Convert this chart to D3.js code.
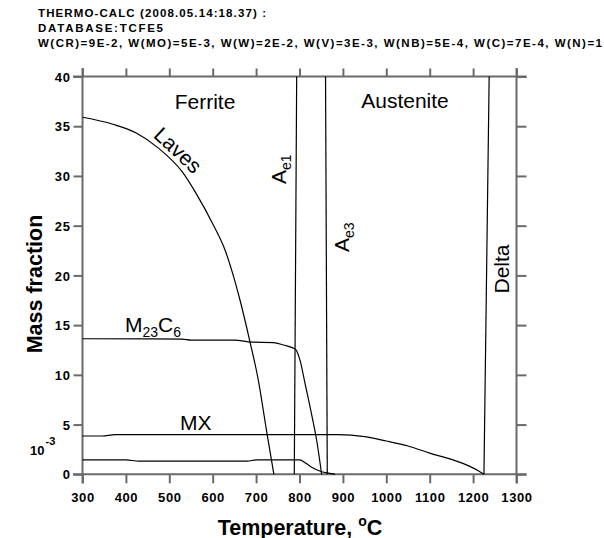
<!DOCTYPE html>
<html><head><meta charset="utf-8">
<script src="https://cdn.jsdelivr.net/npm/d3@7"></script>
<style>body{margin:0;background:#fff}</style>
</head><body>
<svg id="chart" width="604" height="538"></svg>
<script>
// ---- data ----
const titleLines = [
  "THERMO-CALC (2008.05.14:18.37) :",
  "DATABASE:TCFE5",
  "W(CR)=9E-2, W(MO)=5E-3, W(W)=2E-2, W(V)=3E-3, W(NB)=5E-4, W(C)=7E-4, W(N)=1"
];
const xTicks = [300,400,500,600,700,800,900,1000,1100,1200,1300];
const yTicks = [0,5,10,15,20,25,30,35,40];

const lavesT = [300,370,425,475,530,565,600,628,648,663,686,705,724,741];
const lavesV = [35.9,35.2,34.3,32.8,30.4,28.0,25.2,22.6,19.9,17.5,13.3,9.5,4.4,0];

const m23c6T = [300,530,550,650,690,740,763,790,801,812,828,840,851];
const m23c6V = [13.63,13.6,13.5,13.5,13.3,13.25,13.0,12.6,11.5,9.3,6.0,3.3,0];

const mxT = [300,345,375,890,950,1000,1050,1100,1150,1190,1212,1225];
const mxV = [3.85,3.85,3.98,3.98,3.78,3.35,2.85,2.13,1.5,0.85,0.36,0];

const lowT = [300,400,430,680,700,800,815,828,851,870,882];
const lowV = [1.45,1.45,1.33,1.33,1.45,1.45,1.1,0.7,0.26,0.1,0];

const boundaryNames = ["Ae1","Ae3","Delta"];
const boundaryTopT = [793.5, 860, 1237];
const boundaryBotT = [788, 864, 1225];
const boundaryV = [40, 0];

// ---- layout ----
const svg = d3.select("#chart");
const FONT = "'Liberation Sans', Arial, sans-serif";
const x = d3.scaleLinear().domain([300,1300]).range([82.5,516.5]);
const y = d3.scaleLinear().domain([0,40]).range([474.3,76.5]);
const AX = "#6a6a6a";

// title
const tEnds = [266, 163, 602];
titleLines.forEach((t,i)=>{
  svg.append("text").attr("x",38).attr("y",17+i*15)
    .attr("font-family",FONT).attr("font-weight","bold").attr("font-size",11.5)
    .attr("textLength", tEnds[i]-38).attr("lengthAdjust","spacing")
    .text(t);
});

// frame lines
const frame = svg.append("g").attr("stroke",AX).attr("stroke-width",2).attr("fill","none");
frame.append("line").attr("x1",x(300)).attr("x2",x(300)).attr("y1",68).attr("y2",483.5);
frame.append("line").attr("x1",x(1300)).attr("x2",x(1300)).attr("y1",68).attr("y2",483.5);
frame.append("line").attr("x1",73).attr("x2",526.5).attr("y1",y(0)).attr("y2",y(0));
frame.append("line").attr("x1",73).attr("x2",526.5).attr("y1",y(40)).attr("y2",y(40));

function styleAxis(g){
  g.select(".domain").remove();
  g.selectAll(".tick line").attr("stroke",AX).attr("stroke-width",2);
  g.selectAll(".tick text").attr("font-family",FONT).attr("font-weight","bold")
    .attr("font-size",13).attr("fill","#000");
}
svg.append("g").attr("transform",`translate(0,${y(0)})`)
  .call(d3.axisBottom(x).tickValues(xTicks).tickSize(9).tickSizeOuter(0).tickFormat(d3.format("d")))
  .call(styleAxis)
  .call(g=>g.selectAll(".tick text").attr("y",27.7).attr("dy",0).attr("letter-spacing",0.6));
svg.append("g").attr("transform",`translate(0,${y(40)})`)
  .call(d3.axisTop(x).tickValues(xTicks).tickSize(8).tickSizeOuter(0).tickFormat(""))
  .call(styleAxis);
svg.append("g").attr("transform",`translate(${x(300)},0)`)
  .call(d3.axisLeft(y).tickValues(yTicks).tickSize(9).tickPadding(3).tickSizeOuter(0))
  .call(styleAxis)
  .call(g=>g.selectAll(".tick text").attr("dy","0.36em").attr("letter-spacing",0.6));
svg.append("g").attr("transform",`translate(${x(1300)},0)`)
  .call(d3.axisRight(y).tickValues(yTicks).tickSize(10).tickSizeOuter(0).tickFormat(""))
  .call(styleAxis);

// curves
const line = d3.line().x(d=>x(d[0])).y(d=>y(d[1])).curve(d3.curveMonotoneX);
const plot = svg.append("g").attr("fill","none").attr("stroke","#000").attr("stroke-width",1.2);
[[lavesT,lavesV],[m23c6T,m23c6V],[mxT,mxV],[lowT,lowV]].forEach(([T,V])=>{
  plot.append("path").attr("d", line(T.map((t,i)=>[t,V[i]])));
});
const seg = d3.line().x(d=>x(d[0])).y(d=>y(d[1]));
boundaryNames.forEach((n,i)=>{
  plot.append("path").attr("d", seg([[boundaryTopT[i],boundaryV[0]],[boundaryBotT[i],boundaryV[1]]]));
});

// labels
const lab = svg.append("g").attr("font-family",FONT).attr("font-size",21).attr("fill","#000");
lab.append("text").attr("x",205).attr("y",108.5).attr("text-anchor","middle").text("Ferrite");
lab.append("text").attr("x",405).attr("y",108.3).attr("text-anchor","middle").text("Austenite");
lab.append("text").attr("transform","translate(173,155.5) rotate(43)").attr("text-anchor","middle").text("Laves");
function rotLabel(tx,ty,main,sub){
  const t = lab.append("text").attr("transform",`translate(${tx},${ty}) rotate(-90)`);
  t.append("tspan").text(main);
  if(sub) t.append("tspan").attr("font-size",14).attr("dy",5).text(sub);
}
rotLabel(286,184,"A","e1");
rotLabel(348.5,252,"A","e3");
rotLabel(509,293.5,"Delta",null);
const m = lab.append("text").attr("x",125).attr("y",331.5);
m.append("tspan").text("M");
m.append("tspan").attr("font-size",14).attr("dy",5).text("23");
m.append("tspan").attr("dy",-5).text("C");
m.append("tspan").attr("font-size",14).attr("dy",5).text("6");
lab.append("text").attr("x",180).attr("y",430).text("MX");

// multiplier
const mult = svg.append("text").attr("x",30).attr("y",455).attr("font-family",FONT)
  .attr("font-weight","bold").attr("font-size",13);
mult.append("tspan").text("10");
mult.append("tspan").attr("font-size",11).attr("dy",-10).attr("dx",1).text("-3");

// axis titles
const xt = svg.append("text").attr("x",300).attr("y",534.5).attr("text-anchor","middle")
  .attr("font-family",FONT).attr("font-weight","bold").attr("font-size",21.5);
xt.append("tspan").text("Temperature, ");
xt.append("tspan").attr("font-size",14).attr("dy",-9).text("o");
xt.append("tspan").attr("dy",9).text("C");
svg.append("text").attr("transform","translate(42,284) rotate(-90)").attr("text-anchor","middle")
  .attr("font-family",FONT).attr("font-weight","bold").attr("font-size",21.5).text("Mass fraction");
</script>
</body></html>
